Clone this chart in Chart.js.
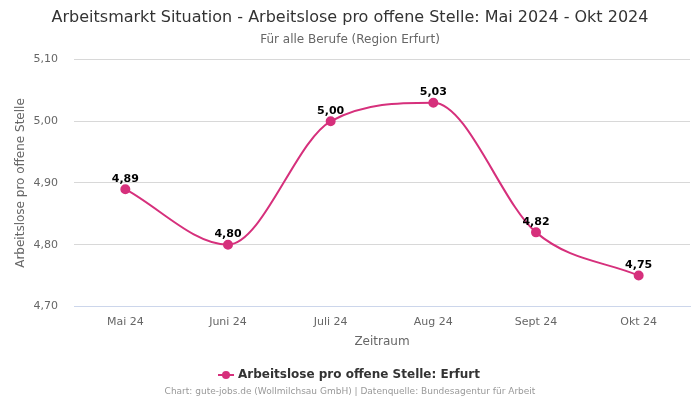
<!DOCTYPE html>
<html>
<head>
<meta charset="utf-8">
<script src="https://cdn.jsdelivr.net/npm/chart.js@4"></script>
<style>
  html, body { margin: 0; padding: 0; background: #fff; }
  #wrap { width: 700px; height: 400px; position: relative; }
</style>
</head>
<body>
<div id="wrap"><canvas id="chart"></canvas></div>
<script>
const months = ["Mai 24", "Juni 24", "Juli 24", "Aug 24", "Sept 24", "Okt 24"];
const values = [4.89, 4.80, 5.00, 5.03, 4.82, 4.75];
const yTicks = [4.70, 4.80, 4.90, 5.00, 5.10];

const LINE_COLOR = "#d6307c";
const FONT = "'DejaVu Sans', sans-serif";
const fmtDe = (v) => v.toFixed(2).replace(".", ",");

// Legendensymbol: Linie mit Punkt
function legendIcon() {
  const c = document.createElement("canvas");
  c.width = 16;
  c.height = 10;
  const g = c.getContext("2d");
  g.strokeStyle = LINE_COLOR;
  g.lineWidth = 2;
  g.beginPath();
  g.moveTo(0, 5);
  g.lineTo(16, 5);
  g.stroke();
  g.fillStyle = LINE_COLOR;
  g.beginPath();
  g.arc(8, 5, 4, 0, Math.PI * 2);
  g.fill();
  return c;
}

// Werte über den Punkten + Quellenzeile unten
const labelPlugin = {
  id: "labels",
  afterDatasetsDraw(chart) {
    const { ctx } = chart;
    const meta = chart.getDatasetMeta(0);
    ctx.save();
    ctx.font = "bold 11px " + FONT;
    ctx.fillStyle = "#000";
    ctx.textAlign = "center";
    ctx.textBaseline = "bottom";
    meta.data.forEach((pt, i) => {
      ctx.fillText(fmtDe(values[i]), pt.x, pt.y - 5);
    });
    ctx.font = "9px " + FONT;
    ctx.fillStyle = "#999";
    ctx.textBaseline = "middle";
    ctx.fillText("Chart: gute-jobs.de (Wollmilchsau GmbH) | Datenquelle: Bundesagentur für Arbeit", 350, 392);
    ctx.restore();
  },
};

new Chart(document.getElementById("chart"), {
  type: "line",
  data: {
    labels: months,
    datasets: [{
      label: "Arbeitslose pro offene Stelle: Erfurt",
      data: values,
      borderColor: LINE_COLOR,
      backgroundColor: LINE_COLOR,
      borderWidth: 2,
      pointRadius: 4,
      pointHoverRadius: 4,
      pointStyle: "circle",
      cubicInterpolationMode: "monotone",
      fill: false,
    }],
  },
  options: {
    responsive: true,
    maintainAspectRatio: false,
    animation: false,
    layout: { padding: { left: 10, right: 10, top: 0, bottom: 9 } },
    plugins: {
      title: {
        display: true,
        text: "Arbeitsmarkt Situation - Arbeitslose pro offene Stelle: Mai 2024 - Okt 2024",
        color: "#333",
        font: { family: FONT, size: 16, weight: "normal" },
        padding: { top: 8, bottom: 5 },
      },
      subtitle: {
        display: true,
        text: "Für alle Berufe (Region Erfurt)",
        color: "#666",
        font: { family: FONT, size: 12 },
        padding: { bottom: 13 },
      },
      legend: {
        position: "bottom",
        labels: {
          usePointStyle: true,
          color: "#333",
          font: { family: FONT, size: 12, weight: "bold" },
          padding: 16,
          generateLabels(chart) {
            const items = Chart.defaults.plugins.legend.labels.generateLabels(chart);
            items.forEach((it) => { it.pointStyle = legendIcon(); });
            return items;
          },
        },
      },
      tooltip: { enabled: false },
    },
    scales: {
      x: {
        offset: true,
        grid: { display: false },
        border: { color: "#ccd6eb" },
        ticks: { color: "#666", font: { family: FONT, size: 11 }, padding: 1 },
        title: { display: true, text: "Zeitraum", color: "#666", font: { family: FONT, size: 12 }, padding: { top: 5 } },
      },
      y: {
        min: 4.70,
        max: 5.10,
        afterBuildTicks(axis) { axis.ticks = yTicks.map((v) => ({ value: v })); },
        afterFit(axis) { axis.width = 64; },
        grid: { color: "#d8d8d8", drawTicks: false },
        border: { display: false },
        ticks: { color: "#666", font: { family: FONT, size: 11 }, padding: 16, callback: (v) => fmtDe(v) },
        title: { display: true, text: "Arbeitslose pro offene Stelle", color: "#666", font: { family: FONT, size: 12 } },
      },
    },
  },
  plugins: [labelPlugin],
});
</script>
</body>
</html>
